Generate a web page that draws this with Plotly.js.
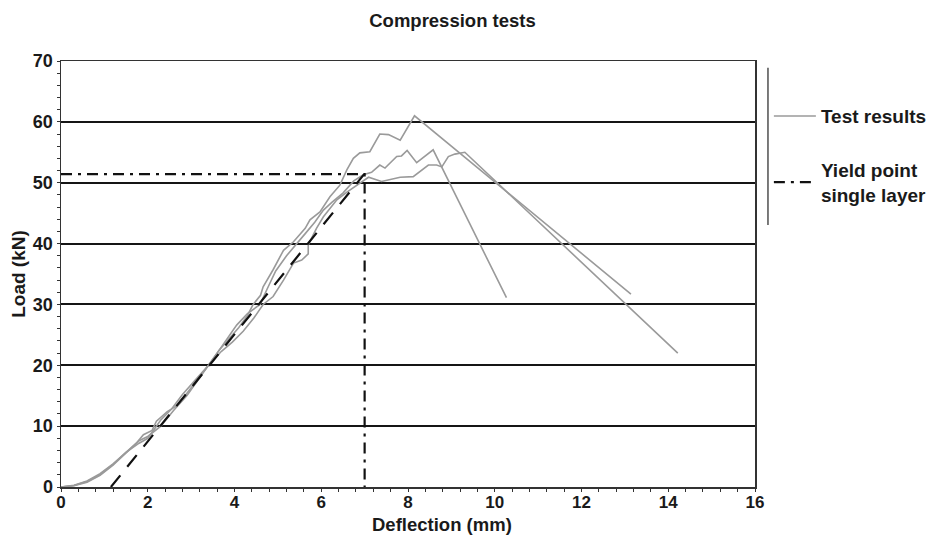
<!DOCTYPE html>
<html>
<head>
<meta charset="utf-8">
<script src="https://cdn.plot.ly/plotly-3.0.1.min.js"></script>
<style>html,body{margin:0;padding:0;background:#fff;}#chart{width:933px;height:536px;}</style>
</head>
<body>
<div id="chart"></div>
<script>
// Test curve A (highest peak)
const testA_x = [0,0.3,0.6,0.9,1.2,1.5,1.75,1.9,2.1,2.2,2.45,2.7,2.95,3.2,3.4,3.65,3.9,4.1,4.3,4.43,4.6,4.66,4.89,5.13,5.36,5.63,5.74,5.97,6.2,6.43,6.59,6.74,6.89,7.12,7.35,7.55,7.82,8.15,13.14];
const testA_y = [0,0.3,1.0,2.2,3.8,5.8,7.3,8.6,9.3,10.8,12.4,13.5,15.8,18.0,20,22.5,24.5,26.2,28.2,30,31.5,32.9,35.7,38.9,40.3,42.5,43.9,45.2,47.7,49.6,52.1,54.0,54.9,55.1,58.0,57.9,57.0,61.0,31.7];
// Test curve B (lowest near peak, longest tail)
const testB_x = [0,0.3,0.6,0.9,1.2,1.5,1.8,2.0,2.3,2.6,2.9,3.15,3.4,3.7,3.95,4.2,4.45,4.66,4.89,5.13,5.36,5.55,5.7,5.7,5.89,6.05,6.36,6.6,6.93,7.09,7.39,7.82,8.12,8.28,8.47,8.66,8.78,8.93,9.08,9.31,14.22];
const testB_y = [0,0.2,0.8,1.9,3.6,5.6,7.6,8.3,10.0,12.6,15.0,17.5,20,22.3,23.8,25.6,27.8,30,31.3,34.0,36.8,37.3,38.3,39.8,42.5,44.4,47.2,48.5,50.2,50.9,50.2,50.9,51.0,51.8,52.9,52.9,52.6,54.3,54.7,55.0,22.0];
// Test curve C (short tail)
const testC_x = [0,0.3,0.6,0.9,1.2,1.5,1.8,2.0,2.15,2.3,2.55,2.8,3.1,3.4,3.6,3.85,4.05,4.3,4.59,4.75,4.95,5.2,5.45,5.65,5.85,6.05,6.25,6.5,6.75,6.97,7.16,7.35,7.47,7.62,7.74,7.85,7.98,8.2,8.43,8.58,10.27];
const testC_y = [0,0.25,0.9,2.0,3.7,5.7,7.2,8.0,9.5,11.0,12.8,15.2,17.6,20,22,24.5,26.6,28.5,30,32.5,35.5,38.0,40.2,41.8,43.5,45.5,46.8,48.3,50.3,51.3,51.7,52.9,52.4,53.5,54.3,54.4,55.3,53.3,54.6,55.4,31.1];
// Linear elastic (dashed) line
const linear_x = [1.15, 7.0];
const linear_y = [0, 51.5];
// Yield point single layer (dash-dot)
const yield_x = [0, 7.0, 7.0];
const yield_y = [51.4, 51.4, 0];

const xTicks = [0,2,4,6,8,10,12,14,16];
const yTicks = [0,10,20,30,40,50,60,70];

const FONT = 'Liberation Sans, Arial, sans-serif';
const TXT = '#1a1a1a';
const grayLine = {color:'#9a9a9a', width:1.6};

const traces = [
  {x:testA_x, y:testA_y, mode:'lines', line:grayLine, name:'Test results', showlegend:true, legendgroup:'a'},
  {x:testB_x, y:testB_y, mode:'lines', line:grayLine, showlegend:false, legendgroup:'a'},
  {x:testC_x, y:testC_y, mode:'lines', line:grayLine, showlegend:false, legendgroup:'a'},
  {x:linear_x, y:linear_y, mode:'lines', line:{color:'#111', width:2.2, dash:'15px,11px'}, showlegend:false},
  {x:yield_x, y:yield_y, mode:'lines', line:{color:'#111', width:2.2, dash:'11px,6px,3px,6px'}, name:'Yield point<br>single layer', showlegend:true, legendgroup:'b'}
];

const layout = {
  width:933, height:536,
  margin:{l:61, r:178, t:61, b:49, autoexpand:false},
  paper_bgcolor:'#fff', plot_bgcolor:'#fff',
  font:{family:FONT, color:TXT},
  title:{text:'Compression tests', x:0.485, xanchor:'center', y:0.962, yanchor:'middle', font:{family:FONT, size:18.5, weight:'bold', color:TXT}},
  xaxis:{
    range:[0,16], tickvals:xTicks, ticktext:xTicks.map(String),
    showgrid:false, zeroline:false,
    showline:true, linecolor:'#333', linewidth:1.5, mirror:true,
    ticks:'outside', ticklen:2, tickcolor:'#333', tickwidth:1,
    ticklabelstandoff:-3,
    minor:{dtick:0.4, ticks:'outside', ticklen:3, tickcolor:'#333', tickwidth:1},
    tickfont:{family:FONT, size:17, weight:'bold', color:TXT}
  },
  yaxis:{
    range:[0,70], tickvals:yTicks, ticktext:yTicks.map(String),
    showgrid:true, gridcolor:'#151515', gridwidth:2,
    zeroline:false,
    showline:true, linecolor:'#333', linewidth:1.5, mirror:true,
    ticks:'outside', ticklen:3, tickcolor:'#333', tickwidth:1,
    minor:{dtick:2, ticks:'outside', ticklen:3, tickcolor:'#333', tickwidth:1},
    tickfont:{family:FONT, size:18, weight:'bold', color:TXT},
    title:{text:'Load (kN)', standoff:2, font:{family:FONT, size:19, weight:'bold', color:TXT}}
  },
  showlegend:true,
  legend:{
    x:1.02, xanchor:'left', y:0.915, yanchor:'top',
    bgcolor:'rgba(0,0,0,0)', borderwidth:0,
    itemwidth:42,
    traceorder:'grouped', tracegroupgap:26,
    font:{family:FONT, size:19, weight:'bold', color:TXT}
  },
  annotations:[
    {text:'Deflection (mm)', xref:'paper', yref:'paper', x:(442-61)/694, y:(487-524)/426, xanchor:'center', yanchor:'middle', showarrow:false, font:{family:FONT, size:18.5, weight:'bold', color:TXT}}
  ],
  shapes:[
    {type:'line', xref:'paper', yref:'paper', x0:1.0187, x1:1.0187, y0:0.984, y1:0.615, line:{color:'#222', width:1.2}}
  ]
};

Plotly.newPlot('chart', traces, layout, {displayModeBar:false, staticPlot:true});
</script>
</body>
</html>
